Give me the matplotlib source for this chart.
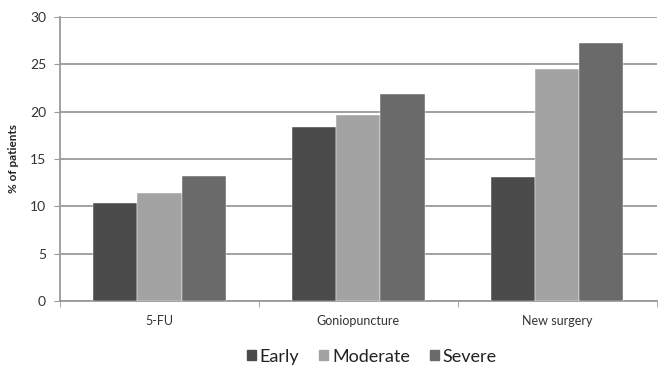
import numpy as np
import matplotlib.pyplot as plt
from matplotlib.patches import Patch

plt.rcParams['font.family'] = ['Lato', 'DejaVu Sans']

categories = ['5-FU', 'Goniopuncture', 'New surgery']
series = ['Early', 'Moderate', 'Severe']
early = [10.4, 18.4, 13.1]
moderate = [11.4, 19.6, 24.5]
severe = [13.2, 21.9, 27.2]
colors = ['#4b4b4b', '#a3a3a3', '#6a6a6a']

fig = plt.figure(figsize=(6.58, 3.68), dpi=100)
ax = fig.add_axes([0.0912, 0.182, 0.9068, 0.772])

x = np.arange(len(categories))
w = 0.222
for i, vals in enumerate([early, moderate, severe]):
    ax.bar(x + (i - 1) * w, vals, width=w, color=colors[i], zorder=3,
           edgecolor='white', linewidth=0.3)

ax.set_xlim(-0.5, len(categories) - 0.5)
ax.set_ylim(0, 30)
ax.set_yticks(range(0, 31, 5))
ax.yaxis.grid(True, color='#9a9a9a', linewidth=1.3, zorder=0)
ax.set_axisbelow(True)

for s in ['top', 'right']:
    ax.spines[s].set_visible(False)
for s in ['left', 'bottom']:
    ax.spines[s].set_color('#9a9a9a')
    ax.spines[s].set_linewidth(1.3)

ax.set_xticks(x)
ax.set_xticklabels(categories)
ax.set_xticks(np.arange(-0.5, len(categories)), minor=True)
ax.tick_params(axis='x', which='major', length=0, pad=10, labelsize=9, labelcolor='#333333')
ax.tick_params(axis='x', which='minor', length=4, color='#9a9a9a')
ax.tick_params(axis='y', length=4, color='#9a9a9a', labelsize=10, labelcolor='#333333', pad=6)

ax.set_ylabel('% of patients', fontsize=8.5, fontweight='bold', color='#222222', labelpad=8)

handles = [Patch(color=c) for c in colors]
fig.legend(handles, series, loc='lower center', ncol=3, frameon=False,
           bbox_to_anchor=(0.565, -0.035), fontsize=13, handlelength=0.5,
           handleheight=0.5, handletextpad=0.2, columnspacing=1.1,
           labelcolor='#222222')

fig.savefig('out.png', dpi=100)
